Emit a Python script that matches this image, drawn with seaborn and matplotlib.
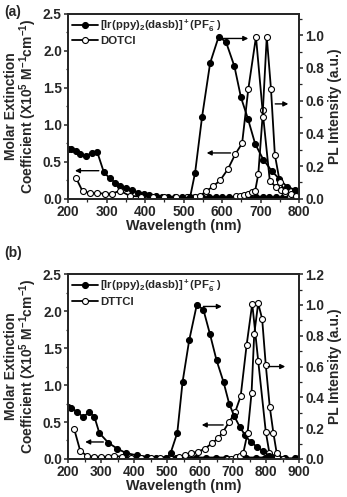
import matplotlib
matplotlib.use('Agg')
import matplotlib.pyplot as plt
import seaborn as sns
from matplotlib.ticker import MultipleLocator

# ---- panel (a) data ----
ir_abs_a_x = [200, 209, 221, 232, 247, 261, 276, 293, 308, 322, 336, 350, 366, 383, 397, 411, 428, 445, 460, 478,
              495, 512, 530, 548, 565, 583, 600, 618, 635, 653, 670, 688, 705, 723, 740, 758, 775, 790, 800]
ir_abs_a_y = [0.68, 0.68, 0.64, 0.61, 0.58, 0.62, 0.63, 0.36, 0.28, 0.22, 0.17, 0.15, 0.12, 0.085, 0.07, 0.05, 0.04,
              0.03, 0.03, 0.02, 0.02, 0.03, 0.02, 0.02, 0.02, 0.03, 0.02, 0.02, 0.03, 0.02, 0.02, 0.02, 0.03,
              0.02, 0.02, 0.02, 0.02, 0.03, 0.02]
ir_pl_a_x = [500, 517, 530, 548, 569, 591, 610, 632, 649, 667, 686, 707, 729, 749, 768, 789, 800]
ir_pl_a_y = [0.0, 0.01, 0.16, 0.50, 0.83, 0.99, 0.96, 0.81, 0.62, 0.49, 0.335, 0.24, 0.17, 0.12, 0.075, 0.055, 0.05]
dye_abs_a_x = [221, 238, 257, 276, 296, 315, 335, 360, 390, 420, 450, 480, 510, 530, 543, 558, 577, 595, 615, 634,
               652, 668, 688, 705, 724, 740, 752, 764, 776, 792]
dye_abs_a_y = [0.28, 0.10, 0.08, 0.075, 0.07, 0.07, 0.11, 0.04, 0.03, 0.03, 0.02, 0.02, 0.03, 0.03, 0.04, 0.10,
               0.17, 0.25, 0.40, 0.60, 0.75, 1.48, 2.19, 1.20, 0.24, 0.16, 0.12, 0.08, 0.04, 0.03]
dye_pl_a_x = [637, 647, 657, 667, 677, 686, 694, 705, 716, 727, 737, 750, 763, 778, 792]
dye_pl_a_y = [0.015, 0.02, 0.025, 0.03, 0.04, 0.05, 0.15, 0.50, 0.99, 0.67, 0.27, 0.10, 0.05, 0.03, 0.02]

# ---- panel (b) data ----
ir_abs_b_x = [200, 208, 228, 245, 265, 280, 295, 322, 349, 376, 408, 438, 468, 498, 528, 558, 588, 618, 648, 678,
              708, 738, 768, 798, 828, 858, 888, 900]
ir_abs_b_y = [0.70, 0.69, 0.64, 0.57, 0.63, 0.57, 0.35, 0.22, 0.14, 0.08, 0.05, 0.03, 0.02, 0.02, 0.02, 0.02,
              0.02, 0.02, 0.02, 0.02, 0.02, 0.02, 0.02, 0.02, 0.01, 0.01, 0.01, 0.01]
ir_pl_b_x = [500, 511, 531, 547, 567, 590, 610, 630, 650, 671, 688, 703, 720, 736, 753, 772, 790, 810]
ir_pl_b_y = [0.0, 0.04, 0.17, 0.50, 0.77, 1.00, 0.97, 0.81, 0.64, 0.50, 0.36, 0.28, 0.21, 0.155, 0.11, 0.08, 0.05, 0.02]
dye_abs_b_x = [219, 237, 258, 280, 300, 320, 340, 365, 390, 420, 450, 480, 510, 535, 555, 574, 595, 615, 635, 655,
               670, 688, 706, 723, 741, 758, 776, 799, 810, 832, 852]
dye_abs_b_y = [0.40, 0.11, 0.04, 0.03, 0.03, 0.03, 0.04, 0.03, 0.02, 0.02, 0.02, 0.02, 0.02, 0.03, 0.05, 0.08,
               0.10, 0.14, 0.21, 0.28, 0.37, 0.50, 0.63, 0.85, 1.54, 2.10, 1.33, 0.37, 0.08, 0.03, 0.0]
dye_pl_b_x = [682, 695, 708, 720, 731, 744, 756, 764, 776, 788, 799, 811, 822, 832, 852]
dye_pl_b_y = [0.0, 0.0, 0.01, 0.02, 0.04, 0.17, 0.43, 0.81, 1.01, 0.91, 0.61, 0.34, 0.17, 0.04, 0.0]

ir_label = r'[Ir(ppy)$_2$(dasb)]$^+$(PF$_6^-$)'

sns.set_style('ticks')
plt.rcParams['font.family'] = ['Liberation Sans', 'DejaVu Sans']
plt.rcParams['font.weight'] = 'bold'
plt.rcParams['axes.labelweight'] = 'bold'
plt.rcParams['mathtext.fontset'] = 'custom'
plt.rcParams['mathtext.rm'] = 'Liberation Sans:bold'
plt.rcParams['mathtext.it'] = 'Liberation Sans:bold'
plt.rcParams['mathtext.bf'] = 'Liberation Sans:bold'


def curve(ax, x, y, filled):
    face = 'k' if filled else 'white'
    sns.lineplot(x=x, y=y, ax=ax, color='k', marker='o', markersize=4.3, markerfacecolor=face,
                 markeredgecolor='k', markeredgewidth=0.8, linewidth=1.3)
    return ax.lines[-1]


def arrow(ax, tail, head):
    ax.annotate('', xy=head, xytext=tail,
                arrowprops=dict(arrowstyle='-|>', color='k', lw=1.0, mutation_scale=7, shrinkA=0, shrinkB=0))


def draw_panel(rect, xmax, rmax, rticks, abs_ir, pl_ir, abs_dye, pl_dye, dye_name, arrows_l, arrows_r):
    ax = fig.add_axes(rect)
    ax2 = ax.twinx()
    h1 = curve(ax, *abs_ir, filled=True)
    h2 = curve(ax, *abs_dye, filled=False)
    curve(ax2, *pl_ir, filled=True)
    curve(ax2, *pl_dye, filled=False)
    for t, h in arrows_l:
        arrow(ax, t, h)
    for t, h in arrows_r:
        arrow(ax2, t, h)

    ax.set_xlim(200, xmax)
    ax.set_ylim(0, 2.5)
    ax2.set_ylim(0, rmax)
    ax.xaxis.set_major_locator(MultipleLocator(100))
    ax.xaxis.set_minor_locator(MultipleLocator(50))
    ax.yaxis.set_major_locator(MultipleLocator(0.5))
    ax.yaxis.set_minor_locator(MultipleLocator(0.25))
    ax2.set_yticks(rticks)
    ax2.yaxis.set_minor_locator(MultipleLocator(0.1))
    ax.yaxis.set_major_formatter(plt.FormatStrFormatter('%.1f'))
    ax2.yaxis.set_major_formatter(plt.FormatStrFormatter('%.1f'))

    for a in (ax, ax2):
        for s in a.spines.values():
            s.set_linewidth(1.3)
            s.set_visible(True)
        a.tick_params(which='major', direction='out', length=3, width=1.1, labelsize=9.8, pad=1.5)
        a.tick_params(which='minor', direction='out', length=1.8, width=0.9)

    ax.set_xlabel('Wavelength (nm)', fontsize=10.4, labelpad=0)
    ax.set_ylabel('Molar Extinction\nCoefficient (X10$^5$ M$^{-1}$cm$^{-1}$)', fontsize=10,
                  linespacing=1.0)
    ax.yaxis.set_label_coords(-0.125, 0.5)
    ax2.set_ylabel('PL Intensity (a.u.)', fontsize=10, labelpad=3)

    ax.legend(handles=[h1, h2], labels=[ir_label, dye_name], loc='upper left', frameon=False,
              fontsize=8.2, handlelength=2.3, handletextpad=0.2, borderaxespad=0.25,
              labelspacing=0.2, borderpad=0.1)
    return ax


fig = plt.figure(figsize=(3.47, 4.97), dpi=100)

draw_panel([0.196, 0.600, 0.666, 0.372], 800, 1.13, [0, 0.2, 0.4, 0.6, 0.8, 1.0],
           (ir_abs_a_x, ir_abs_a_y), (ir_pl_a_x, ir_pl_a_y),
           (dye_abs_a_x, dye_abs_a_y), (dye_pl_a_x, dye_pl_a_y), 'DOTCI',
           [((280, 0.38), (218, 0.38)), ((622, 0.62), (560, 0.62))],
           [((600, 0.98), (668, 0.98)), ((738, 0.58), (772, 0.58))])

draw_panel([0.196, 0.0765, 0.666, 0.372], 900, 1.2, [0, 0.2, 0.4, 0.6, 0.8, 1.0, 1.2],
           (ir_abs_b_x, ir_abs_b_y), (ir_pl_b_x, ir_pl_b_y),
           (dye_abs_b_x, dye_abs_b_y), (dye_pl_b_x, dye_pl_b_y), 'DTTCI',
           [((307, 0.23), (252, 0.23)), ((670, 0.46), (605, 0.46))],
           [((610, 0.99), (666, 0.99)), ((807, 0.60), (858, 0.60))])

fig.text(0.012, 0.976, '(a)', fontsize=10, fontweight='bold', va='center')
fig.text(0.012, 0.490, '(b)', fontsize=10, fontweight='bold', va='center')

fig.savefig('out.png', dpi=100)
